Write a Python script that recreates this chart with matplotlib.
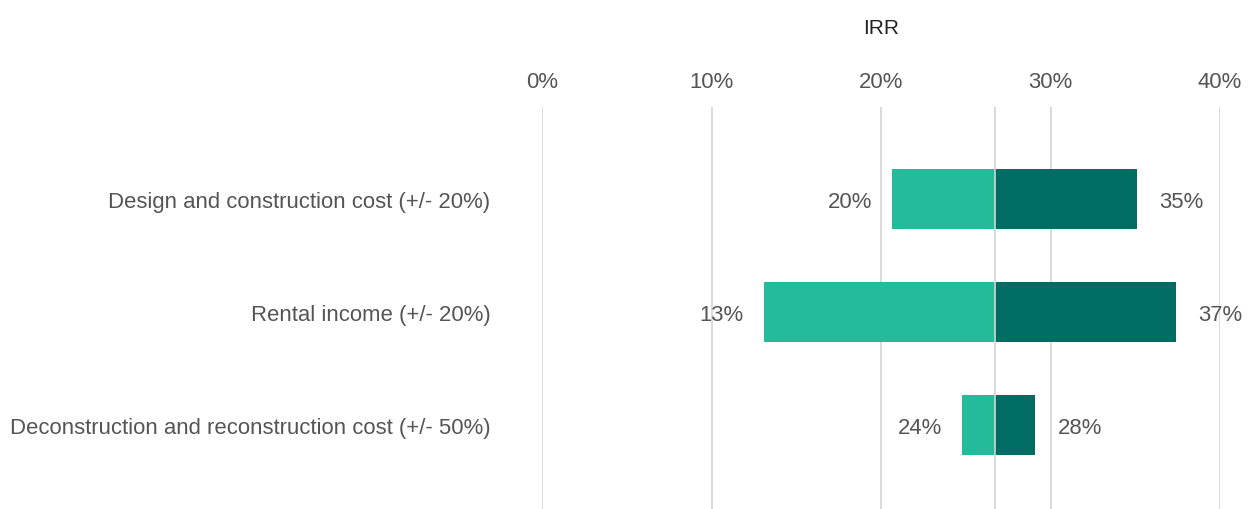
import matplotlib
matplotlib.use("Agg")
import matplotlib.pyplot as plt

categories = ["Design and construction cost (+/- 20%)",
              "Rental income (+/- 20%)",
              "Deconstruction and reconstruction cost (+/- 50%)"]
base_irr = 26.7
low_irr = [20.65, 13.1, 24.8]
high_irr = [35.1, 37.4, 29.1]
low_labels = ["20%", "13%", "24%"]
high_labels = ["35%", "37%", "28%"]
xticks = [0, 10, 20, 30, 40]
xtick_labels = ["0%", "10%", "20%", "30%", "40%"]

LIGHT = "#23BB9A"
DARK = "#006C63"
GRID = "#d4d4d4"
TXT = "#555555"

plt.rcParams['font.family'] = ['Liberation Sans', 'DejaVu Sans']

W, H = 1255, 510
fig = plt.figure(figsize=(W / 100, H / 100), dpi=100)
left, right, top, bottom = 542, 1220, 108, 510
ax = fig.add_axes([left / W, 1 - bottom / H, (right - left) / W, (bottom - top) / H])

ypos = list(range(len(categories)))
bh = 0.53
FS = 15.9
for i in ypos:
    ax.barh(i, low_irr[i] - base_irr, left=base_irr, height=bh, color=LIGHT, zorder=2)
    ax.barh(i, high_irr[i] - base_irr, left=base_irr, height=bh, color=DARK, zorder=2)
    ax.annotate(low_labels[i], (low_irr[i], i), xytext=(-14.5, 0), textcoords="offset points",
                ha="right", va="center_baseline", fontsize=FS, color=TXT)
    ax.annotate(high_labels[i], (high_irr[i], i), xytext=(16, 0), textcoords="offset points",
                ha="left", va="center_baseline", fontsize=FS, color=TXT)

ax.axvline(base_irr, color=GRID, lw=1.2, zorder=3)
for x in xticks:
    ax.axvline(x, color=GRID, lw=1.2, zorder=1)

ax.set_xlim(0, 40)
ax.set_ylim(2.743, -0.814)
ax.set_yticks(ypos)
ax.set_yticklabels(categories, fontsize=FS, color=TXT)
ax.tick_params(axis="y", length=0, pad=37)
ax.xaxis.tick_top()
ax.set_xticks(xticks)
ax.set_xticklabels(xtick_labels, fontsize=FS, color=TXT)
ax.tick_params(axis="x", length=0, pad=11)
ax.xaxis.set_label_position("top")
ax.set_xlabel("IRR", fontsize=15, color="#222222", labelpad=27.5)
for s in ax.spines.values():
    s.set_visible(False)

fig.savefig("out.png", dpi=100)
